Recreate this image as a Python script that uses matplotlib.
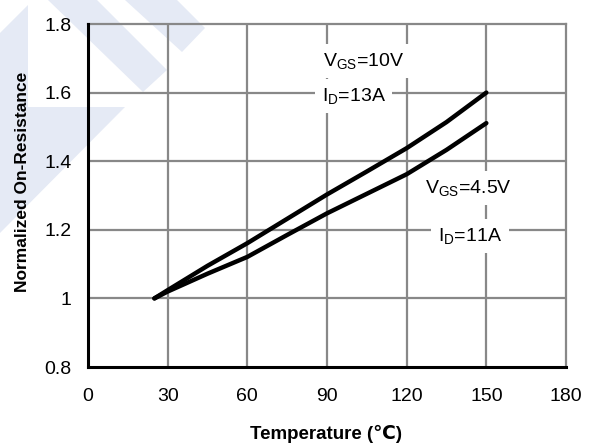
import matplotlib
matplotlib.use("Agg")
import matplotlib.pyplot as plt
from matplotlib.patches import Polygon

plt.rcParams['font.family'] = ['Liberation Sans', 'DejaVu Sans']
plt.rcParams['mathtext.fontset'] = 'custom'
plt.rcParams['mathtext.rm'] = 'Liberation Sans'

# Data
temp_10v = [25, 30, 45, 60, 75, 90, 105, 120, 135, 150]
rds_10v = [1.0, 1.024, 1.095, 1.161, 1.232, 1.303, 1.37, 1.438, 1.514, 1.6]
temp_45v = [25, 30, 45, 60, 75, 90, 105, 120, 135, 150]
rds_45v = [1.0, 1.02, 1.072, 1.121, 1.185, 1.248, 1.305, 1.362, 1.433, 1.511]
x_ticks = [0, 30, 60, 90, 120, 150, 180]
y_ticks = [0.8, 1.0, 1.2, 1.4, 1.6, 1.8]
y_tick_labels = ["0.8", "1", "1.2", "1.4", "1.6", "1.8"]

W, H = 591, 446
fig = plt.figure(figsize=(W / 100, H / 100), dpi=100)

# watermark shapes (figure pixel coords, y from top)
wm_color = "#e5eaf5"
shapes = [
    [(0, 33), (28, 5), (28, 107), (125, 107), (0, 233)],
    [(48, 0), (97, 0), (167, 70), (143, 92)],
    [(125, 0), (177, 0), (205, 28), (182, 52)],
]
for s in shapes:
    pts = [(x / W, 1 - y / H) for x, y in s]
    fig.patches.append(Polygon(pts, closed=True, transform=fig.transFigure,
                               facecolor=wm_color, edgecolor="none", zorder=-5))

ax = fig.add_axes([88 / W, 1 - 367 / H, (566 - 88) / W, (367 - 24) / H])
ax.set_zorder(2)
ax.set_facecolor("none")
ax.set_xlim(0, 180)
ax.set_ylim(0.8, 1.8)
ax.set_xticks(x_ticks)
ax.set_yticks(y_ticks)
ax.set_yticklabels(y_tick_labels)
ax.tick_params(length=0, labelsize=14)
ax.tick_params(axis='y', pad=12)
ax.tick_params(axis='x', pad=15)

grid_c = "#888888"
for xv in x_ticks[1:-1]:
    ax.axvline(xv, color=grid_c, lw=1.6, zorder=1)
for yv in y_ticks[1:-1]:
    ax.axhline(yv, color=grid_c, lw=1.6, zorder=1)

for side in ["top", "right"]:
    ax.spines[side].set_color(grid_c)
    ax.spines[side].set_linewidth(1.6)
for side in ["left", "bottom"]:
    ax.spines[side].set_color("black")
    ax.spines[side].set_linewidth(2.2)
    ax.spines[side].set_zorder(5)

ax.plot(temp_10v, rds_10v, color="black", lw=3.2, zorder=4, solid_capstyle="round", solid_joinstyle="round")
ax.plot(temp_45v, rds_45v, color="black", lw=3.2, zorder=4, solid_capstyle="round", solid_joinstyle="round")

box = dict(facecolor="white", edgecolor="none", boxstyle="square,pad=0.35")
ax.text(88.5, 1.692, r"$\mathregular{V_{GS}}$=10V", fontsize=14, ha="left", va="center", bbox=box, zorder=3)
ax.text(88.0, 1.59, r"$\mathregular{I_{D}}$=13A", fontsize=14, ha="left", va="center", bbox=box, zorder=3)
ax.text(127.0, 1.322, r"$\mathregular{V_{GS}}$=4.5V", fontsize=14, ha="left", va="center", bbox=box, zorder=3)
ax.text(131.8, 1.182, r"$\mathregular{I_{D}}$=11A", fontsize=14, ha="left", va="center", bbox=box, zorder=3)

fig.text((88 + 0.498 * 478) / W, 1 - 434 / H, "Temperature (℃)", ha="center", va="center",
         fontsize=13.5, fontweight="bold")
fig.text(23 / W, 1 - 181.5 / H, "Normalized On-Resistance", ha="center", va="center",
         rotation=90, fontsize=12.5, fontweight="bold")

fig.savefig("out.png", dpi=100)
